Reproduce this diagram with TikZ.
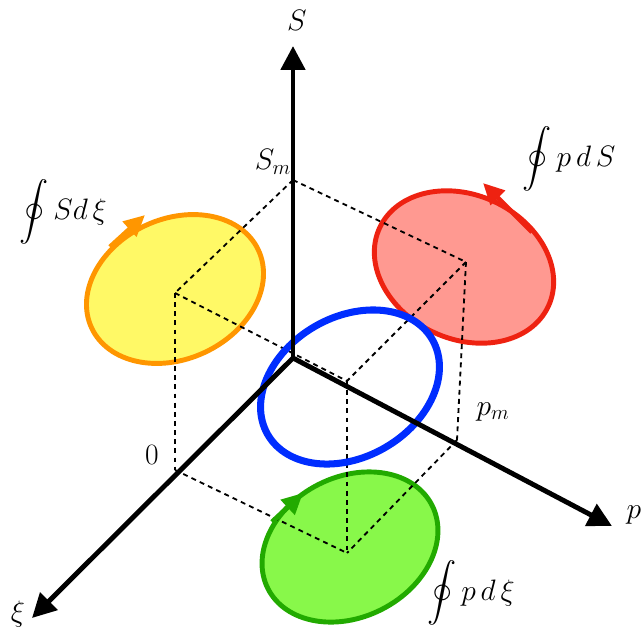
\documentclass[tikz,border=0pt]{standalone}
\usepackage{fix-cm}
\usepackage{amsmath}
\usetikzlibrary{arrows.meta}

\definecolor{sdxifill}{RGB}{255,249,102}
\definecolor{sdxiline}{RGB}{255,150,0}
\definecolor{pdsfill}{RGB}{255,153,145}
\definecolor{pdsline}{RGB}{238,34,17}
\definecolor{pdxifill}{RGB}{136,248,74}
\definecolor{pdxiline}{RGB}{34,170,0}
\definecolor{cycleblue}{RGB}{0,45,255}

\begin{document}
\begin{tikzpicture}[
        x=0.025cm, y=-0.025cm,
        axisline/.style={line width=3.5pt, -{Triangle[length=17pt, width=17pt]}},
        guide/.style={line width=1.3pt, dash pattern=on 3.5pt off 3pt},
        orbit/.style={line width=3.5pt},
        orbitarrow/.style={line width=3.5pt, -{Triangle[length=15pt, width=14pt]}},
        lbl/.style={font=\fontsize{21}{25}\selectfont, inner sep=0pt}
    ]
    \useasboundingbox (0,0) rectangle (641,633);

    % --- Box corners ---
    \coordinate (O) at (293,358);
    \coordinate (Sm) at (293,180);
    \coordinate (X0) at (175,470);
    \coordinate (Pm) at (457,440);
    \coordinate (SX) at (175,293);
    \coordinate (SP) at (466,262);
    \coordinate (XP) at (347,553);
    \coordinate (SXP) at (347,381);

    % --- Axis tips ---
    \coordinate (Stip) at (293,46);
    \coordinate (Ptip) at (612,526);
    \coordinate (Xtip) at (32,618);

    % --- Projected cycles ---
    \draw[orbit, draw=sdxiline, fill=sdxifill] (175,289) ellipse [x radius=2.3cm, y radius=1.75cm, rotate=25];
    \draw[orbit, draw=pdsline, fill=pdsfill] (464,267) ellipse [x radius=2.325cm, y radius=1.8cm, rotate=-25];
    \draw[orbit, draw=pdxiline, fill=pdxifill] (350,547) ellipse [x radius=2.3cm, y radius=1.75cm, rotate=27];

    % --- Dashed box ---
    \draw[guide] (Sm) -- (SX);
    \draw[guide] (Sm) -- (SP);
    \draw[guide] (SX) -- (X0);
    \draw[guide] (SP) -- (Pm);
    \draw[guide] (X0) -- (XP);
    \draw[guide] (Pm) -- (XP);
    \draw[guide] (SX) -- (SXP);
    \draw[guide] (SP) -- (SXP);
    \draw[guide] (SXP) -- (XP);

    % --- Cycle in space ---
    \draw[line width=5pt, draw=cycleblue] (350,387) ellipse [x radius=2.375cm, y radius=1.75cm, rotate=30];

    % --- Axes ---
    \draw[axisline] (O) -- (Stip);
    \draw[axisline] (O) -- (Ptip);
    \draw[axisline] (O) -- (Xtip);

    % --- Direction arrows ---
    \coordinate (ya) at (110,247);
    \coordinate (yb) at (145,215);
    \coordinate (ra) at (532,232);
    \coordinate (rb) at (483,183);
    \coordinate (ga) at (272,522);
    \coordinate (gb) at (303,493);
    \draw[orbitarrow, draw=sdxiline, fill=sdxiline] (ya) -- (yb);
    \draw[orbitarrow, draw=pdsline, fill=pdsline] (ra) -- (rb);
    \draw[orbitarrow, draw=pdxiline, fill=pdxiline] (ga) -- (gb);

    % --- Labels ---
    \node[lbl] (Slab) at (297,20) {$S$};
    \node[lbl] (plab) at (634,515) {$p$};
    \node[lbl] (xilab) at (18,614) {$\xi$};
    \node[lbl] (Smlab) at (273,162) {$S_m$};
    \node[lbl] (pmlab) at (493,412) {$p_m$};
    \node[lbl] (zerolab) at (152,455) {$0$};
    \node[lbl] (sdxilab) at (63,212) {$\displaystyle\oint S d\,\xi$};
    \node[lbl] (pdslab) at (569,159) {$\displaystyle\oint p\,d\,S$};
    \node[lbl] (pdxilab) at (471,593) {$\displaystyle\oint p\,d\,\xi$};

\end{tikzpicture}
\end{document}
